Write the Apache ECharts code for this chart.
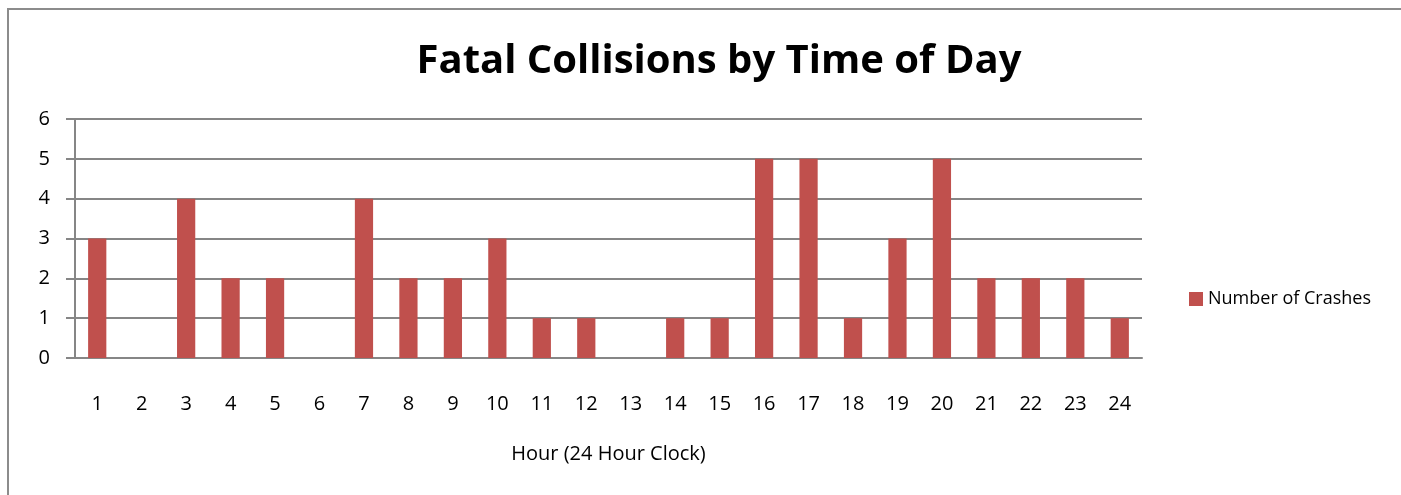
<!DOCTYPE html>
<html>
<head>
<meta charset="utf-8">
<script src="https://cdn.jsdelivr.net/npm/echarts@6/dist/echarts.min.js"></script>
<style>
  html, body { margin: 0; padding: 0; background: #fff; }
  #chart { width: 1401px; height: 495px; }
</style>
</head>
<body>
<div id="chart"></div>
<script>
// hours of the day and number of fatal crashes in each
const hours = ['1', '2', '3', '4', '5', '6', '7', '8', '9', '10', '11', '12',
  '13', '14', '15', '16', '17', '18', '19', '20', '21', '22', '23', '24'];
const crashes = [3, 0, 4, 2, 2, 0, 4, 2, 2, 3, 1, 1, 0, 1, 1, 5, 5, 1, 3, 5, 2, 2, 2, 1];

const font = "'Open Sans', 'Liberation Sans', sans-serif";
const myChart = echarts.init(document.getElementById('chart'));

const option = {
  backgroundColor: '#fff',
  animation: false,
  title: {
    text: 'Fatal Collisions by Time of Day',
    left: 714,
    textAlign: 'center',
    top: 37,
    textStyle: { fontFamily: font, fontSize: 40, fontWeight: 'bold', color: '#000' }
  },
  legend: {
    data: ['Number of Crashes'],
    left: 1184,
    top: 285,
    icon: 'rect',
    itemWidth: 14,
    itemHeight: 14,
    itemGap: 5,
    textStyle: { fontFamily: font, fontSize: 18, color: '#000' }
  },
  graphic: [
    {
      type: 'polyline',
      shape: { points: [[8, 500], [8, 9], [1410, 9]] },
      style: { stroke: '#8c8c8c', lineWidth: 2, fill: null }
    }
  ],
  grid: { left: 75, right: 259, top: 119, bottom: 137 },
  xAxis: {
    type: 'category',
    data: hours,
    name: 'Hour (24 Hour Clock)',
    nameLocation: 'middle',
    nameGap: 86,
    nameTextStyle: { fontFamily: font, fontSize: 20, color: '#000' },
    axisLine: { lineStyle: { color: '#868686', width: 2 } },
    axisTick: { length: 6, lineStyle: { color: '#868686', width: 2 } },
    axisLabel: { margin: 36, fontFamily: font, fontSize: 20, color: '#000' }
  },
  yAxis: {
    type: 'value',
    min: 0,
    max: 6,
    interval: 1,
    axisLine: { show: true, lineStyle: { color: '#868686', width: 2 } },
    axisTick: { show: true, length: 9, lineStyle: { color: '#868686', width: 2 } },
    axisLabel: { margin: 25, fontFamily: font, fontSize: 20, color: '#000' },
    splitLine: { lineStyle: { color: '#868686', width: 2 } }
  },
  series: [
    {
      name: 'Number of Crashes',
      type: 'bar',
      data: crashes,
      barWidth: '41%',
      itemStyle: { color: '#C0504D' }
    }
  ]
};
myChart.setOption(option);
</script>
</body>
</html>
